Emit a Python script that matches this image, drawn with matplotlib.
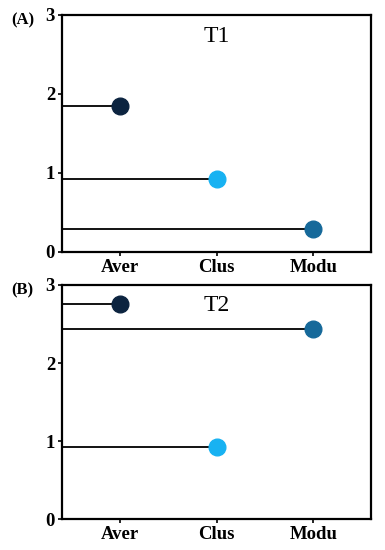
import matplotlib as mpl
import matplotlib.pyplot as plt

mpl.rcParams["font.family"] = "Liberation Serif"

CATEGORIES = ["Aver", "Clus", "Modu"]
T1_VALUES = [1.85, 0.92, 0.29]
T2_VALUES = [2.76, 0.92, 2.44]
POINT_COLORS = ["#0c2440", "#18b2f2", "#16699a"]


def draw_panel(ax, values, title, tag):
    xs = range(len(CATEGORIES))
    for x, v, c in zip(xs, values, POINT_COLORS):
        ax.plot([-0.6, x], [v, v], color="black", linewidth=1.3, zorder=2)
        ax.plot(x, v, "o", color=c, markersize=12, zorder=3)
    ax.set_xlim(-0.6, 2.6)
    ax.set_ylim(0, 3)
    ax.set_yticks([0, 1, 2, 3])
    ax.set_xticks(list(xs))
    ax.set_xticklabels(CATEGORIES)
    for lbl in ax.get_xticklabels() + ax.get_yticklabels():
        lbl.set_fontweight("bold")
        lbl.set_fontsize(13.5)
    ax.tick_params(length=3, width=1.2, pad=2)
    for s in ax.spines.values():
        s.set_linewidth(1.6)
    ax.text(1, 2.73, title, ha="center", va="center", fontsize=17)
    ax.text(-0.165, 0.975, tag, transform=ax.transAxes, ha="left", va="center",
            fontsize=12, fontweight="bold")


fig = plt.figure(figsize=(3.85, 5.5), dpi=100)
ax_a = fig.add_axes([0.161, 0.542, 0.803, 0.431])
ax_b = fig.add_axes([0.161, 0.056, 0.803, 0.426])

draw_panel(ax_a, T1_VALUES, "T1", "(A)")
draw_panel(ax_b, T2_VALUES, "T2", "(B)")

fig.savefig("out.png", dpi=100)
